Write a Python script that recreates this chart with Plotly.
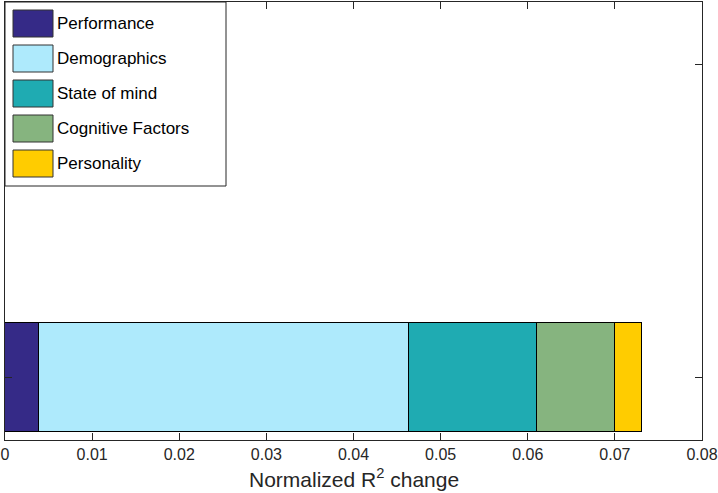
import plotly.graph_objects as go

categories = ["Performance", "Demographics", "State of mind", "Cognitive Factors", "Personality"]
values = [0.0039, 0.0425, 0.0147, 0.0089, 0.0031]
colors = ["#352a87", "#aeeafc", "#1fabb2", "#86b47f", "#ffcc00"]
x_ticks = [0, 0.01, 0.02, 0.03, 0.04, 0.05, 0.06, 0.07, 0.08]
x_tick_labels = ["0", "0.01", "0.02", "0.03", "0.04", "0.05", "0.06", "0.07", "0.08"]
x_title = "Normalized R<sup>2</sup> change"

FONT = "Liberation Sans, Arial, Helvetica, sans-serif"
AX = "#262626"

fig = go.Figure()
for name, v, c in zip(categories, values, colors):
    fig.add_trace(go.Bar(
        x=[v], y=[1], orientation="h", name=name, width=0.35,
        marker=dict(color=c, line=dict(color="#000000", width=1)),
        showlegend=False, hoverinfo="x+name",
    ))

W, H = 718, 493
ml, mr, mt, mb = 5, 16, 2, 53
pw, ph = W - ml - mr, H - mt - mb

def px(x):
    return (x - ml) / pw

def py(y):
    return 1 - (y - mt) / ph

shapes = []
annotations = []
# legend box
shapes.append(dict(type="rect", xref="paper", yref="paper",
                   x0=px(5), x1=px(226), y0=py(186), y1=py(2),
                   fillcolor="white", line=dict(color=AX, width=1), layer="above"))
for i, (name, c) in enumerate(zip(categories, colors)):
    top = 10 + i * 35
    shapes.append(dict(type="rect", xref="paper", yref="paper",
                       x0=px(13), x1=px(53), y0=py(top + 27), y1=py(top),
                       fillcolor=c, line=dict(color="#333333", width=1), layer="above"))
    annotations.append(dict(xref="paper", yref="paper", x=px(55), y=py(top + 13.5),
                            text=name, showarrow=False, xanchor="left", yanchor="middle",
                            font=dict(family=FONT, size=17, color="#000000")))

annotations.append(dict(xref="paper", yref="paper", x=px(354), y=py(478),
                        text=x_title, showarrow=False, xanchor="center", yanchor="middle",
                        font=dict(family=FONT, size=21, color=AX)))

fig.update_layout(
    width=W, height=H,
    margin=dict(l=ml, r=mr, t=mt, b=mb, autoexpand=False),
    paper_bgcolor="white", plot_bgcolor="white",
    barmode="stack", bargap=0,
    showlegend=False,
    shapes=shapes, annotations=annotations,
    font=dict(family=FONT, color=AX),
    xaxis=dict(
        range=[0, 0.08], tickvals=x_ticks, ticktext=x_tick_labels,
        ticks="inside", ticklen=7, tickcolor=AX, tickwidth=1,
        showline=True, linecolor=AX, linewidth=1, mirror="ticks",
        showgrid=False, zeroline=False, automargin=False,
        tickfont=dict(family=FONT, size=16, color=AX),
        fixedrange=True,
    ),
    yaxis=dict(
        range=[0.8, 2.2], tickvals=[1, 2], showticklabels=False,
        ticks="inside", ticklen=7, tickcolor=AX, tickwidth=1,
        showline=True, linecolor=AX, linewidth=1, mirror="ticks",
        showgrid=False, zeroline=False, fixedrange=True, automargin=False,
    ),
)

fig.write_html("out.html", config={"displayModeBar": False},
               post_script="document.body.style.margin='0';document.body.style.padding='0';document.body.style.overflow='hidden';")
